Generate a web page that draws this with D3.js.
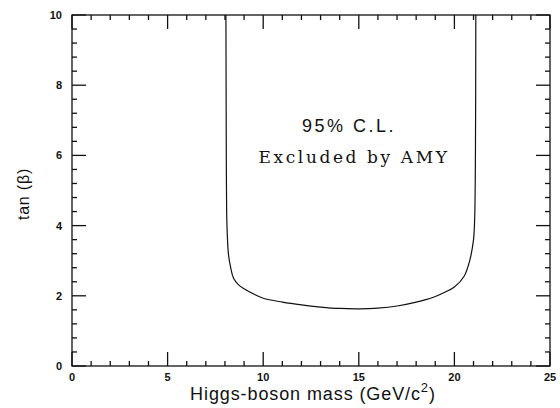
<!DOCTYPE html>
<html>
<head>
<meta charset="utf-8">
<script src="https://cdn.jsdelivr.net/npm/d3@7"></script>
<style>
  html, body { margin: 0; padding: 0; background: #fff; }
  svg { display: block; }
  .tick-label { font-family: "Liberation Sans", Arial, sans-serif; font-size: 11px; font-weight: bold; fill: #111; }
  .axis-title { font-family: "Liberation Sans", Arial, sans-serif; fill: #111; }
</style>
</head>
<body>
<div id="chart"></div>
<script>
// Excluded contour (95% C.L.)
const massValues = [8.05, 8.06, 8.07, 8.08, 8.1, 8.18, 8.3, 8.45, 8.7, 9.0, 9.5, 10, 11, 12, 13, 14, 15, 16, 17, 18, 18.9, 19.5, 20, 20.5, 20.8, 21.0, 21.06, 21.1, 21.12];
const tanBetaValues = [10, 8, 6, 5, 4.1, 3.2, 2.8, 2.5, 2.32, 2.2, 2.05, 1.93, 1.82, 1.74, 1.68, 1.64, 1.63, 1.65, 1.71, 1.82, 1.96, 2.1, 2.25, 2.55, 3.0, 3.6, 4.2, 6, 10];

const xMajorTicks = [0, 5, 10, 15, 20, 25];
const yMajorTicks = [0, 2, 4, 6, 8, 10];
const xMinorStep = 1;
const yMinorStep = 0.4;

const annotationLines = ["95% C.L.", "Excluded by AMY"];
const xTitle = "Higgs-boson mass (GeV/c";
const yTitle = "tan (β)";

const width = 560, height = 408;
const margin = { left: 72, right: 10, top: 15, bottom: 42 };

const svg = d3.select("#chart").append("svg")
    .attr("width", width)
    .attr("height", height);

const xScale = d3.scaleLinear().domain([0, 25]).range([margin.left, width - margin.right]);
const yScale = d3.scaleLinear().domain([0, 10]).range([height - margin.bottom, margin.top]);

const majorLen = 14, minorLen = 5;
const ink = "#111";

const plotBottom = height - margin.bottom, plotTop = margin.top;
const plotLeft = margin.left, plotRight = width - margin.right;

// tick positions: majors plus minors
const xTickData = d3.range(0, 25 + 1e-9, xMinorStep).map(v => ({ v, major: xMajorTicks.includes(v) }));
const yTickData = d3.range(0, 10 + 1e-9, yMinorStep).map(v => +v.toFixed(2))
    .map(v => ({ v, major: yMajorTicks.includes(v) }));

const tickLen = d => d.major ? majorLen : minorLen;

// inward ticks along a horizontal edge
const hTicks = (y0, dir) => {
    svg.append("g").selectAll("path").data(xTickData).enter().append("path")
        .attr("d", d => `M${xScale(d.v)},${y0}V${y0 + dir * tickLen(d)}`)
        .attr("stroke", ink)
        .attr("stroke-width", 1.3)
        .attr("fill", "none");
};
// inward ticks along a vertical edge
const vTicks = (x0, dir) => {
    svg.append("g").selectAll("path").data(yTickData).enter().append("path")
        .attr("d", d => `M${x0},${yScale(d.v)}H${x0 + dir * tickLen(d)}`)
        .attr("stroke", ink)
        .attr("stroke-width", 1.3)
        .attr("fill", "none");
};
hTicks(plotBottom, -1);
hTicks(plotTop, 1);
vTicks(plotLeft, 1);
vTicks(plotRight, -1);

// frame
svg.append("rect")
    .attr("x", plotLeft).attr("y", plotTop)
    .attr("width", plotRight - plotLeft).attr("height", plotBottom - plotTop)
    .attr("fill", "none").attr("stroke", ink).attr("stroke-width", 1.3);

// tick labels
svg.selectAll(".xlab").data(xMajorTicks).enter().append("text")
    .attr("class", "tick-label")
    .attr("x", d => xScale(d))
    .attr("y", plotBottom + 15)
    .attr("text-anchor", "middle")
    .text(d => d);

svg.selectAll(".ylab").data(yMajorTicks).enter().append("text")
    .attr("class", "tick-label")
    .attr("x", plotLeft - 10)
    .attr("y", d => yScale(d) + 4)
    .attr("text-anchor", "end")
    .text(d => d);

// contour
const points = massValues.map((m, i) => [m, tanBetaValues[i]]);
const line = d3.line()
    .x(d => xScale(d[0]))
    .y(d => yScale(d[1]))
    .curve(d3.curveCatmullRom.alpha(0.5));

svg.append("path")
    .datum(points)
    .attr("d", line)
    .attr("fill", "none")
    .attr("stroke", ink)
    .attr("stroke-width", 1.2);

// annotation
svg.append("text")
    .attr("x", 349).attr("y", 132)
    .attr("text-anchor", "middle")
    .style("font-family", "'Liberation Sans', Arial, sans-serif")
    .style("font-size", "18px")
    .style("letter-spacing", "2.5px")
    .attr("fill", ink)
    .text(annotationLines[0]);

svg.append("text")
    .attr("x", 354).attr("y", 163)
    .attr("text-anchor", "middle")
    .style("font-family", "'DejaVu Serif', serif")
    .style("font-size", "17px")
    .style("letter-spacing", "2.6px")
    .attr("fill", ink)
    .text(annotationLines[1]);

// axis titles
const xt = svg.append("text")
    .attr("class", "axis-title")
    .attr("x", 313).attr("y", 400)
    .attr("text-anchor", "middle")
    .style("font-size", "18px")
    .style("letter-spacing", "0.9px");
xt.append("tspan").text(xTitle);
xt.append("tspan").attr("dy", -8).style("font-size", "13px").text("2");
xt.append("tspan").attr("dy", 8).text(")");

svg.append("text")
    .attr("class", "axis-title")
    .attr("transform", `translate(29,${yScale(4.9)}) rotate(-90)`)
    .attr("text-anchor", "middle")
    .style("font-size", "16px")
    .style("letter-spacing", "0.8px")
    .text(yTitle);
</script>
</body>
</html>
